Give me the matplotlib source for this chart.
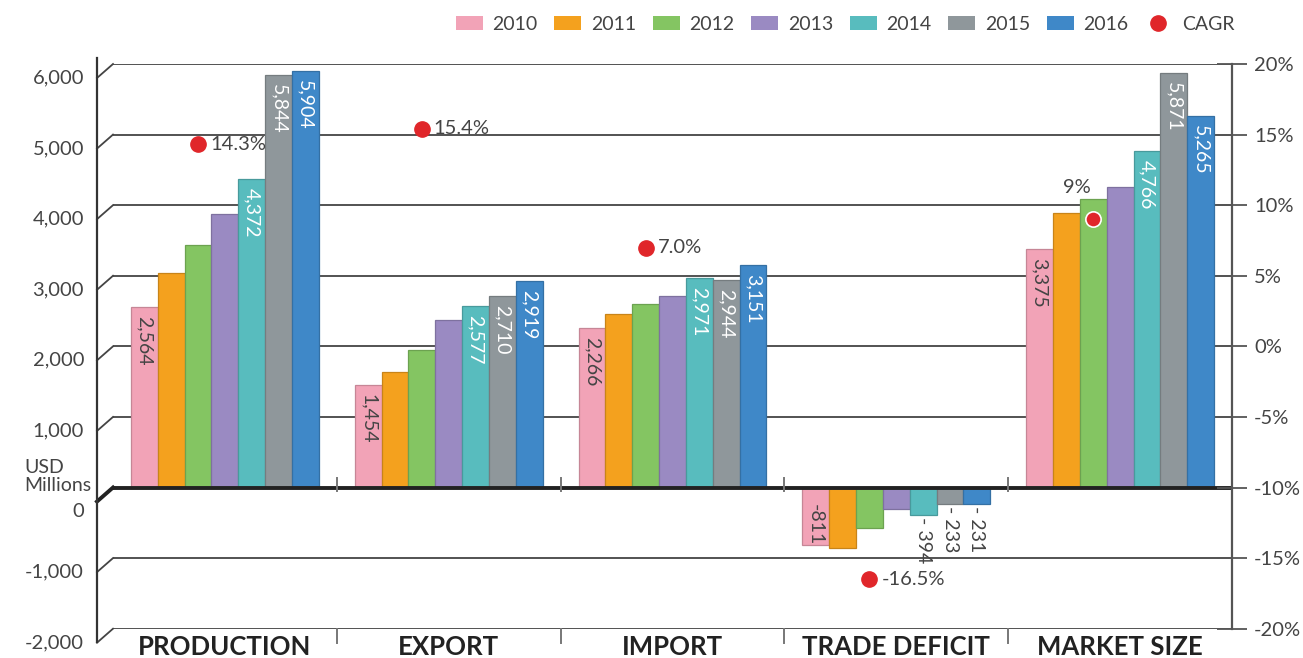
import matplotlib
matplotlib.use("Agg")
import matplotlib.pyplot as plt
from matplotlib.patches import Patch
from matplotlib.lines import Line2D
from matplotlib.colors import to_rgb
import numpy as np

plt.rcParams['font.family'] = ['Lato', 'DejaVu Sans']

# data
categories = ['PRODUCTION', 'EXPORT', 'IMPORT', 'TRADE DEFICIT', 'MARKET SIZE']
years = ['2010', '2011', '2012', '2013', '2014', '2015', '2016']
production = [2564, 3043, 3440, 3875, 4372, 5844, 5904]
export = [1454, 1640, 1950, 2376, 2577, 2710, 2919]
imports = [2266, 2461, 2593, 2707, 2971, 2944, 3151]
trade_deficit = [-811, -854, -570, -305, -394, -233, -231]
market_size = [3375, 3894, 4088, 4262, 4766, 5871, 5265]
cagr = [14.3, 15.4, 7.0, -16.5, 9.0]
cagr_labels = ['14.3%', '15.4%', '7.0%', '-16.5%', '9%']
labelled_years = ['2010', '2014', '2015', '2016']
left_ticks = [-2000, -1000, 0, 1000, 2000, 3000, 4000, 5000, 6000]
right_ticks = [-20, -15, -10, -5, 0, 5, 10, 15, 20]

colors = ['#F2A3B7', '#F4A11E', '#84C562', '#9A8AC2', '#58BCBE', '#8F979B', '#3F88C8']
text_colors = ['#444444', '#444444', '#444444', '#444444', 'white', 'white', 'white']
red = '#E0262A'

series = [production, export, imports, trade_deficit, market_size]

W, H = 1303, 658
fig = plt.figure(figsize=(W / 100, H / 100), dpi=100)
ax = fig.add_axes([113 / W, 1 - 628.7 / H, 1119 / W, 564.7 / H])
ax.set_xlim(0, 5)
ax.set_ylim(-2000, 6000)
for s in ax.spines.values():
    s.set_visible(False)
ax.set_xticks([])
ax.set_yticks([])

py = 8000 / 564.7          # data units per pixel (y)
px = 1 / 1119              # axes fraction per pixel (x)
ytr = ax.get_yaxis_transform()
xtr = ax.get_xaxis_transform()

# back-plane gridlines and pseudo 3d left axis
for v in left_ticks:
    if v == 0:
        ax.axhline(0, color='#222222', lw=2.8, zorder=3)
        ax.plot([0, -16 * px], [0, -14 * py], transform=ytr, color='#222222', lw=2.8, clip_on=False)
    else:
        ax.axhline(v, color='#444444', lw=1.3, zorder=0)
        ax.plot([0, -16 * px], [v, v - 14 * py], transform=ytr, color='#444444', lw=1.3, clip_on=False)
    extra = 10 * py if v == 0 else 0
    ax.text(-29 * px, v - 14 * py - extra, f'{v:,}', transform=ytr, ha='right', va='center',
            fontsize=14.5, color='#444444')
ax.plot([-16 * px, -16 * px], [6000 + 6 * py, -2000 - 13 * py], transform=ytr,
        color='#333333', lw=1.6, clip_on=False)

fig.text(24 / W, 1 - 459 / H, 'USD\nMillions', ha='left', va='top', fontsize=14,
         color='#444444', linespacing=1.05)

# category separators
for b in range(1, 5):
    ax.plot([b, b], [-3 * py, 10 * py], color='#777777', lw=1.4, zorder=4)
    ax.plot([b, b], [-2000, -2000 - 14 * py], color='#777777', lw=1.4, clip_on=False)

# bars
bw = 0.12
for i, vals in enumerate(series):
    for j, v in enumerate(vals):
        x = i + 0.5 + (j - 3) * bw
        edge = tuple(c * 0.82 for c in to_rgb(colors[j]))
        ax.bar(x, v, width=bw, color=colors[j], edgecolor=edge, linewidth=0.9, zorder=2)
        if years[j] in labelled_years:
            if v >= 0:
                ax.text(x, v - 9 * py, f'{v:,}', rotation=270, ha='center', va='top',
                        fontsize=14, color=text_colors[j], zorder=5)
            elif j == 0:
                ax.text(x, v, f'{v:,}', rotation=270, ha='center', va='bottom',
                        fontsize=14, color='#444444', zorder=5)
            else:
                ax.text(x, v - 2 * py, f'- {abs(v):,}', rotation=270, ha='center', va='top',
                        fontsize=14, color='#444444', zorder=5)

# category labels
for i, c in enumerate(categories):
    ax.text(i + 0.5, -18 / 564.7, c, transform=xtr, ha='center', va='center',
            fontsize=18.5, fontweight='bold', color='#222222')

# CAGR on secondary axis
ax2 = ax.twinx()
ax2.set_ylim(-20, 20)
ax2.set_xlim(0, 5)
for k in ['top', 'left', 'bottom']:
    ax2.spines[k].set_visible(False)
ax2.spines['right'].set_color('#555555')
ax2.spines['right'].set_linewidth(1.6)
ax2.set_yticks(right_ticks)
ax2.set_yticklabels([f'{t}%' for t in right_ticks])
ax2.tick_params(axis='y', direction='inout', length=22, width=1.3, color='#555555',
                labelsize=14.5, labelcolor='#444444', pad=5)

for i, (v, lab) in enumerate(zip(cagr, cagr_labels)):
    x = i + 0.5 - bw
    if i == 4:
        ax2.plot(x, v, 'o', color=red, ms=11, mec='white', mew=1.2, zorder=6)
        ax2.annotate(lab, (x, v), xytext=(-16, 32), textcoords='offset pixels',
                     ha='center', va='center', fontsize=14.5, color='#444444')
    else:
        ax2.plot(x, v, 'o', color=red, ms=11, mec=red, zorder=6)
        ax2.annotate(lab, (x, v), xytext=(12, 0), textcoords='offset pixels',
                     ha='left', va='center', fontsize=14.5, color='#444444')

# legend
handles = [Patch(facecolor=c, edgecolor='none') for c in colors]
handles.append(Line2D([], [], marker='o', ls='none', color=red, ms=11))
fig.legend(handles, years + ['CAGR'], loc='center', bbox_to_anchor=(845 / W, 1 - 24 / H),
           ncol=8, frameon=False, fontsize=14, handlelength=1.39, handleheight=0.72,
           handletextpad=0.5, columnspacing=0.85, labelcolor='#444444')

fig.savefig('out.png', dpi=100)
